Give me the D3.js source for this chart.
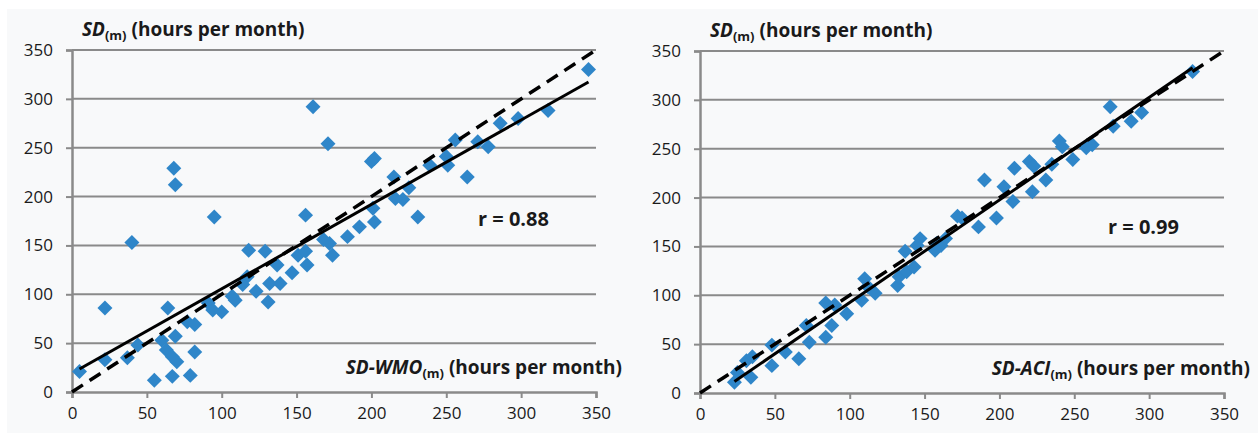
<!DOCTYPE html>
<html>
<head>
<meta charset="utf-8">
<script src="https://cdn.jsdelivr.net/npm/d3@7"></script>
<style>
  body { margin: 0; background: #fff; }
  text { font-family: "Open Sans", "DejaVu Sans", sans-serif; fill: #1a1a1a; }
</style>
</head>
<body>
<svg></svg>
<script>
const width = 1258;
const height = 439;

// left panel: SD-WMO vs SD
const wmoX = [5, 22, 22, 37, 40, 44, 55, 68, 69, 64, 60, 69, 63, 67, 70, 67, 79, 82, 77, 82,
    95, 91, 94, 100, 107, 109, 118, 129, 117, 114, 123, 131, 132, 139, 137, 147, 157, 156, 151, 156,
    161, 171, 200, 202, 215, 225, 221, 216, 231, 202, 201, 192, 184, 172, 174, 168, 239, 250, 251, 256,
    264, 271, 278, 286, 298, 318, 345];
const wmoY = [21, 86, 33, 35, 153, 48, 12, 229, 212, 86, 53, 57, 43, 36, 31, 16, 17, 41, 72, 69,
    179, 91, 84, 82, 98, 94, 145, 144, 118, 110, 103, 92, 111, 111, 130, 122, 130, 181, 140, 144,
    292, 254, 236, 239, 220, 209, 197, 198, 179, 174, 188, 169, 159, 152, 140, 156, 232, 241, 232, 258,
    220, 256, 251, 275, 280, 288, 330];

// right panel: SD-ACI vs SD
const aciX = [23, 25, 34, 31, 35, 48, 48, 57, 66, 71, 73, 84, 90, 84, 88, 98, 110, 112, 108, 117,
    132, 133, 137, 138, 143, 147, 145, 157, 161, 172, 158, 164, 175, 186, 190, 198, 203, 210, 209, 220,
    223, 222, 231, 235, 240, 242, 249, 258, 262, 274, 276, 288, 295, 329];
const aciY = [11, 21, 16, 33, 37, 49, 28, 42, 35, 69, 52, 92, 90, 57, 69, 81, 117, 109, 95, 102,
    110, 119, 145, 124, 129, 158, 151, 146, 151, 181, 153, 158, 179, 170, 218, 179, 211, 230, 196, 237,
    232, 206, 218, 234, 258, 252, 239, 251, 254, 293, 273, 278, 287, 329];

const tickValues = [0, 50, 100, 150, 200, 250, 300, 350];
const rLabels = ["r = 0.88", "r = 0.99"];
const xTitles = [["SD-WMO", "(m)", " (hours per month)"], ["SD-ACI", "(m)", " (hours per month)"]];
const yTitle = ["SD", "(m)", " (hours per month)"];

let svg = d3.select("svg")
    .attr("width", width)
    .attr("height", height);

const innerW = 524, innerH = 342;
const blue = "#2f86c9", grid = "#8a8a8a";

svg.append("rect")
    .attr("x", 7).attr("y", 9)
    .attr("width", width - 7).attr("height", 424)
    .attr("fill", "#f8f9fa");

function fit(xs, ys) {
    const mx = d3.mean(xs), my = d3.mean(ys);
    let sxy = 0, sxx = 0;
    xs.forEach((x, i) => { sxy += (x - mx) * (ys[i] - my); sxx += (x - mx) * (x - mx); });
    const slope = sxy / sxx;
    return {slope: slope, intercept: my - slope * mx};
}

function drawPanel(ox, oy, xs, ys, rLabel, xTitle, rPos) {
    let g = svg.append("g").attr("transform", `translate(${ox},${oy})`);
    let x = d3.scaleLinear().domain([0, 350]).range([0, innerW]);
    let y = d3.scaleLinear().domain([0, 350]).range([innerH, 0]);

    // horizontal grid
    g.selectAll(".grid").data(tickValues.slice(1)).enter().append("line")
        .attr("x1", 0).attr("x2", innerW)
        .attr("y1", d => y(d)).attr("y2", d => y(d))
        .attr("stroke", grid).attr("stroke-width", 2);

    let yAxis = g.append("g")
        .call(d3.axisLeft(y).tickValues(tickValues).tickSize(6).tickPadding(13));
    let xAxis = g.append("g").attr("transform", `translate(0,${innerH})`)
        .call(d3.axisBottom(x).tickValues(tickValues).tickSize(6).tickPadding(9));
    [xAxis, yAxis].forEach(a => {
        a.select(".domain").attr("stroke", grid).attr("stroke-width", 2.5);
        a.selectAll(".tick line").attr("stroke", grid).attr("stroke-width", 2);
        a.selectAll("text").style("font-size", "17px").attr("fill", "#262626");
    });

    // points
    g.selectAll(".pt").data(xs.map((d, i) => [d, ys[i]])).enter().append("path")
        .attr("d", d3.symbol(d3.symbolSquare, 112))
        .attr("transform", d => `translate(${x(d[0])},${y(d[1])}) rotate(45)`)
        .attr("fill", blue);

    // 1:1 line
    g.append("line")
        .attr("x1", x(0)).attr("y1", y(0))
        .attr("x2", x(350)).attr("y2", y(350))
        .attr("stroke", "#000").attr("stroke-width", 3.5)
        .attr("stroke-dasharray", "13,8");

    // trend line
    const f = fit(xs, ys);
    const x0 = d3.min(xs), x1 = d3.max(xs);
    g.append("line")
        .attr("x1", x(x0)).attr("y1", y(f.intercept + f.slope * x0))
        .attr("x2", x(x1)).attr("y2", y(f.intercept + f.slope * x1))
        .attr("stroke", "#000").attr("stroke-width", 3);

    g.append("text")
        .attr("x", rPos[0]).attr("y", rPos[1])
        .style("font-size", "20px").style("font-weight", "bold")
        .text(rLabel);

    // y title
    let yt = g.append("text").attr("x", 10).attr("y", -14)
        .style("font-size", "19px").style("font-weight", "bold");
    yt.append("tspan").style("font-style", "italic").text(yTitle[0]);
    yt.append("tspan").attr("dy", 4).style("font-size", "13px").text(yTitle[1]);
    yt.append("tspan").attr("dy", -4).text(yTitle[2]);

    // x title
    let xt = g.append("text").attr("x", innerW + 26).attr("y", innerH - 18)
        .attr("text-anchor", "end")
        .style("font-size", "19px").style("font-weight", "bold");
    xt.append("tspan").style("font-style", "italic").text(xTitle[0]);
    xt.append("tspan").attr("dy", 4).style("font-size", "13px").text(xTitle[1]);
    xt.append("tspan").attr("dy", -4).text(xTitle[2]);
}

drawPanel(72, 50, wmoX, wmoY, rLabels[0], xTitles[0], [406, 176]);
drawPanel(700, 51, aciX, aciY, rLabels[1], xTitles[1], [408, 183]);
</script>
</body>
</html>
